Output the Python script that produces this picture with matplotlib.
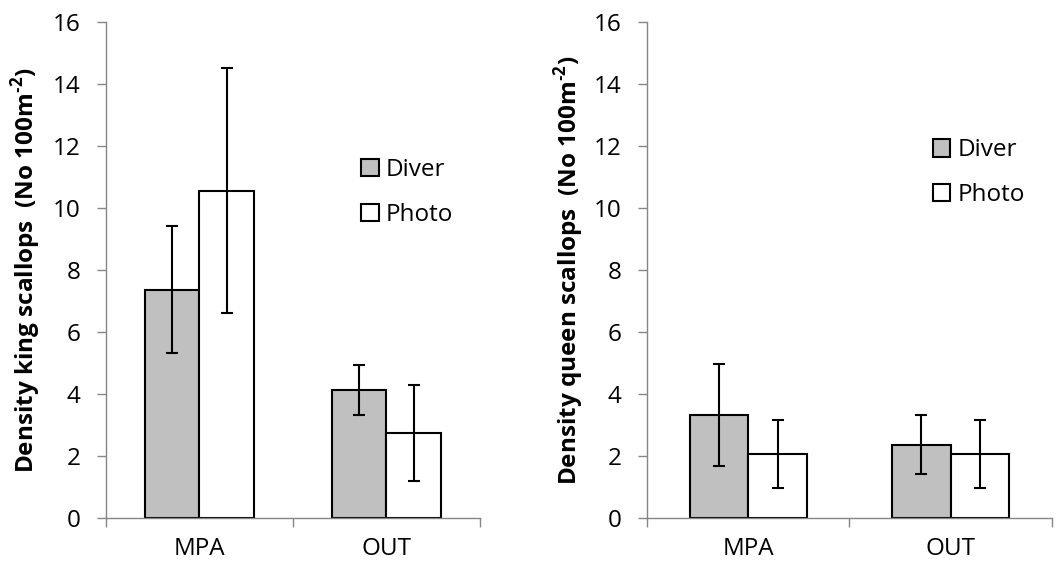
import numpy as np
import matplotlib
matplotlib.use("Agg")
import matplotlib.pyplot as plt
from matplotlib.patches import Patch

# data
sites = ["MPA", "OUT"]
methods = ["Diver", "Photo"]
king_diver = [7.37, 4.12]
king_diver_err = [2.05, 0.81]
king_photo = [10.56, 2.74]
king_photo_err = [3.94, 1.56]
queen_diver = [3.33, 2.36]
queen_diver_err = [1.65, 0.95]
queen_photo = [2.07, 2.07]
queen_photo_err = [1.10, 1.10]
y_ticks = [0, 2, 4, 6, 8, 10, 12, 14, 16]

plt.rcParams['font.family'] = ['Open Sans', 'DejaVu Sans']
plt.rcParams['mathtext.fontset'] = 'custom'
plt.rcParams['mathtext.rm'] = 'Open Sans'
plt.rcParams['mathtext.bf'] = 'Open Sans:bold'

SPINE = '#868686'
GREY = '#c0c0c0'
FS = 17.5


def draw_panel(ax, diver, diver_err, photo, photo_err, ylabel, label_x, legend_pos):
    x = np.arange(len(sites)) + 0.5
    w = 0.29
    ekw = dict(elinewidth=1.5, capthick=1.5, ecolor='black')
    ax.bar(x - w / 2, diver, w, color=GREY, edgecolor='black', linewidth=1.5,
           yerr=diver_err, capsize=4, error_kw=ekw, label=methods[0], zorder=2)
    ax.bar(x + w / 2, photo, w, color='white', edgecolor='black', linewidth=1.5,
           yerr=photo_err, capsize=4, error_kw=ekw, label=methods[1], zorder=2)
    ax.set_xlim(0, len(sites))
    ax.set_ylim(0, 16)
    ax.set_yticks(y_ticks)
    ax.tick_params(axis='y', labelsize=FS, length=6.5, width=1, color=SPINE, pad=12)
    ax.set_xticks(np.arange(len(sites) + 1))
    ax.set_xticklabels([])
    ax.tick_params(axis='x', which='major', length=6.5, width=1, color=SPINE)
    ax.set_xticks(x, minor=True)
    ax.set_xticklabels(sites, minor=True)
    ax.tick_params(axis='x', which='minor', length=0, labelsize=FS, pad=14)
    for s in ['top', 'right']:
        ax.spines[s].set_visible(False)
    for s in ['left', 'bottom']:
        ax.spines[s].set_color(SPINE)
        ax.spines[s].set_linewidth(1)
    ax.set_ylabel(ylabel, fontsize=17.5, fontweight='bold')
    ax.yaxis.set_label_coords(label_x, 0.5)
    handles = [Patch(facecolor=GREY, edgecolor='black', linewidth=1.5),
               Patch(facecolor='white', edgecolor='black', linewidth=1.5)]
    ax.legend(handles, methods, loc='center left', bbox_to_anchor=legend_pos,
              frameon=False, fontsize=FS, handlelength=0.72, handleheight=0.72,
              handletextpad=0.3, labelspacing=0.85, borderaxespad=0, borderpad=0)


fig = plt.figure(figsize=(10.61, 5.71), dpi=100)
ax1 = fig.add_axes([0.0999, 0.0928, 0.3525, 0.8687])
ax2 = fig.add_axes([0.6098, 0.0928, 0.3817, 0.8687])

draw_panel(ax1, king_diver, king_diver_err, king_photo, king_photo_err,
           'Density king scallops  (No 100m$^{\\mathbf{\u20102}}$)', -0.168, (0.682, 0.656))
draw_panel(ax2, queen_diver, queen_diver_err, queen_photo, queen_photo_err,
           'Density queen scallops  (No 100m$^{\\mathbf{\u20102}}$)', -0.15, (0.705, 0.696))

fig.savefig('out.png', dpi=100)
